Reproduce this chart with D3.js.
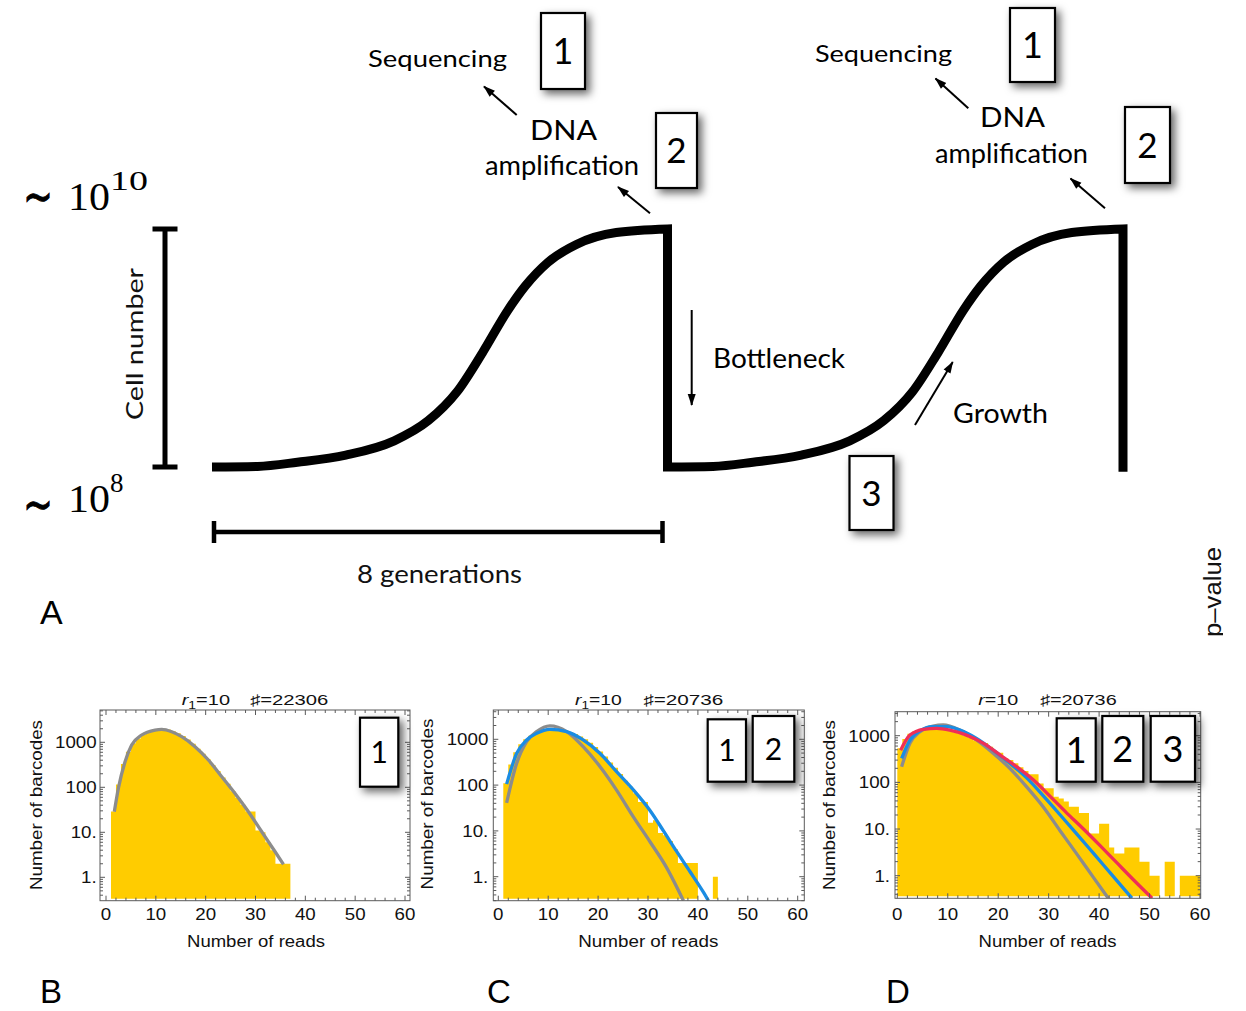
<!DOCTYPE html>
<html>
<head>
<meta charset="utf-8">
<script src="https://cdn.jsdelivr.net/npm/d3@7"></script>
<style>
  html, body { margin: 0; padding: 0; background: #fff; }
  svg { display: block; }
</style>
</head>
<body>
<svg id="fig" width="1246" height="1011"></svg>
<script>
// ---------- Panel A: one growth cycle (generations vs log10 cell number) ----------
const cycleGenerations = [0, 0.8, 1.5, 2.35, 3.2, 3.8, 4.3, 4.75, 5.2, 5.5, 5.9, 6.4, 7.1, 8.0];
const cycleLogCells    = [8.0, 8.005, 8.04, 8.10, 8.22, 8.39, 8.63, 8.96, 9.32, 9.52, 9.72, 9.87, 9.97, 10.0];
const cycleStarts      = [0, 8];

// ---------- Panel B: first sequencing run ----------
const binsB   = d3.range(1, 37);
const countsB = [29, 115, 330, 620, 950, 1220, 1500, 1750, 1870, 1950, 2000, 1920, 1760, 1580, 1380,
                 1150, 930, 720, 560, 420, 310, 230, 165, 120, 82, 58, 41, 29, 29, 11, 10, 6, 4, 2, 2, 2];
const fitB1Reads  = [1.67, 2.48, 3.82, 5.15, 7.16, 9.84, 11.18, 13.19, 15.19, 17.87, 20.55, 23.23, 25.9, 28.58, 31.26, 33.94, 35.61];
const fitB1Counts = [28.7, 94.8, 371, 871, 1452, 1875, 1942, 1722, 1334, 800, 404, 172, 73, 28.7, 10.3, 3.7, 1.94];

// ---------- Panel C: sequencing + amplification ----------
const binsC   = d3.range(1, 44);
const countsC = [110, 280, 520, 780, 1000, 1200, 1380, 1500, 1600, 1650, 1650, 1600, 1520, 1420, 1300,
                 1150, 1000, 840, 680, 540, 420, 310, 240, 175, 125, 92, 66, 43, 43, 15, 17, 9, 8, 6, 4,
                 2, 2, 2, 2, 0, 0, 0, 1];
const fitC1Reads  = [1.67, 3.67, 5.68, 7.68, 10.35, 13.7, 17.0, 20.4, 23.7, 27.1, 30.4, 33.7, 37.1];
const fitC1Counts = [41, 295, 890, 1470, 1960, 1470, 690, 252, 78, 20, 5.8, 1.6, 0.3];
const fitC2Reads  = [1.67, 3.67, 5.68, 7.68, 10.35, 13.7, 17.0, 20.4, 23.7, 27.1, 30.4, 33.1, 35.7, 38.4, 41.1, 42.1];
const fitC2Counts = [105, 490, 967, 1350, 1655, 1470, 967, 490, 196, 78, 28, 10, 3.6, 1.3, 0.46, 0.3];

// ---------- Panel D: sequencing + amplification + growth ----------
const binsD   = d3.range(0, 60);
const countsD = [540, 850, 1100, 1250, 1320, 1360, 1380, 1380, 1360, 1320, 1260, 1180, 1090, 990, 890,
                 800, 720, 700, 580, 440, 430, 330, 300, 256, 210, 175, 150, 150, 95, 75,
                 75, 49, 45, 39, 30, 30, 22, 22, 8, 8, 13, 13, 4, 3, 3,
                 4, 4, 4, 2, 2, 1, 1, 0, 2, 2, 0, 1, 1, 1, 1];
const fitD1Reads  = [0.86, 2.5, 4.5, 7.1, 9.1, 12.4, 15.7, 19.0, 22.3, 25.6, 28.9, 32.3, 35.6, 38.9, 41.8];
const fitD1Counts = [217, 690, 1220, 1610, 1700, 1320, 810, 420, 200, 81, 30, 9.1, 2.9, 0.91, 0.33];
const fitD2Reads  = [0.86, 2.5, 4.5, 7.1, 9.8, 12.4, 15.7, 19.0, 22.3, 25.6, 28.9, 32.3, 35.6, 38.9, 42.2, 46.5];
const fitD2Counts = [326, 807, 1280, 1560, 1560, 1320, 876, 490, 257, 126, 52, 20, 7.8, 3.0, 1.15, 0.33];
const fitD3Reads  = [0.66, 2.5, 5.2, 7.8, 10.4, 13.7, 17.1, 20.4, 23.7, 27.0, 30.3, 33.6, 36.9, 40.2, 43.5, 46.8, 50.5];
const fitD3Counts = [490, 1030, 1370, 1435, 1320, 1030, 685, 385, 215, 112, 50, 22, 10, 4.4, 1.9, 0.82, 0.33];

// axis tick values / labels shared by B-D
const xTickValues = [0, 10, 20, 30, 40, 50, 60];
const yTickValues = [1, 10, 100, 1000];
const yTickLabels = ["1.", "10.", "100", "1000"];

// ---------------------------------------------------------------------------
const svg = d3.select("#fig");
const defs = svg.append("defs");

const shadow = defs.append("filter").attr("id", "shadow")
  .attr("x", "-40%").attr("y", "-40%").attr("width", "200%").attr("height", "200%");
shadow.append("feDropShadow").attr("dx", 4).attr("dy", 4).attr("stdDeviation", 4)
  .attr("flood-color", "#000").attr("flood-opacity", 0.6);

defs.append("marker").attr("id", "arrowhead")
  .attr("viewBox", "0 0 12 10").attr("refX", 11).attr("refY", 5)
  .attr("markerUnits", "userSpaceOnUse").attr("markerWidth", 13).attr("markerHeight", 10)
  .attr("orient", "auto")
  .append("path").attr("d", "M0,1 L12,5 L0,9 Z").attr("fill", "#000");

const SANS = "'Liberation Sans', Arial, Helvetica, sans-serif";
const HUMAN = "Lato, 'Open Sans', sans-serif";

function addText(parent, str, o) {
  let tf = `translate(${o.x},${o.y})`;
  if (o.rot) tf += ` rotate(${o.rot})`;
  if (o.sx) tf += ` scale(${o.sx},1)`;
  const t = parent.append("text")
    .attr("transform", tf)
    .attr("text-anchor", o.anchor || "start")
    .attr("font-family", o.family || SANS)
    .attr("font-size", o.size || 16)
    .attr("fill", o.fill || "#111");
  if (o.style) t.attr("font-style", o.style);
  if (o.len) t.attr("textLength", o.len).attr("lengthAdjust", "spacingAndGlyphs");
  if (o.stroke) t.attr("stroke", o.fill || "#111").attr("stroke-width", o.stroke);
  if (str !== null) t.text(str);
  return t;
}

function shadowBox(parent, label, x, y, w, h, size) {
  parent.append("rect").attr("x", x).attr("y", y).attr("width", w).attr("height", h)
    .attr("fill", "#fff").attr("stroke", "#000").attr("stroke-width", 2.2)
    .attr("filter", "url(#shadow)");
  addText(parent, label, { x: x + w / 2, y: y + h / 2 + size * 0.36, size, family: HUMAN, anchor: "middle", fill: "#000" });
}

function arrow(parent, x1, y1, x2, y2) {
  parent.append("line").attr("x1", x1).attr("y1", y1).attr("x2", x2).attr("y2", y2)
    .attr("stroke", "#000").attr("stroke-width", 2).attr("marker-end", "url(#arrowhead)");
}

// =================== Panel A ===================
const gA = svg.append("g");
const genX  = d3.scaleLinear().domain([0, 16]).range([212, 1123]);
const cellY = d3.scaleLinear().domain([8, 10]).range([467, 229]);

const cycleLine = d3.line().x(d => genX(d[0])).y(d => cellY(d[1])).curve(d3.curveMonotoneX);
let cyclePath = "";
cycleStarts.forEach((g0, i) => {
  const pts = cycleGenerations.map((g, j) => [g0 + g, cycleLogCells[j]]);
  let seg = cycleLine(pts);
  if (i > 0) seg = "L" + seg.slice(1);
  const last = i === cycleStarts.length - 1;
  cyclePath += seg + `L${genX(g0 + 8)},${cellY(last ? 7.96 : 8.0)}`;
});
gA.append("path").attr("d", cyclePath).attr("fill", "none")
  .attr("stroke", "#000").attr("stroke-width", 9).attr("stroke-linejoin", "miter");

// cell-number range bar
const barX = 165;
gA.append("path")
  .attr("d", `M${barX},${cellY(10)}V${cellY(8)}M${barX - 12.5},${cellY(10)}H${barX + 12.5}M${barX - 12.5},${cellY(8)}H${barX + 12.5}`)
  .attr("stroke", "#000").attr("stroke-width", 5).attr("fill", "none");
addText(gA, "Cell number", { x: 143, y: 344, rot: -90, anchor: "middle", size: 24, family: HUMAN, len: 152 });

// generation bar
const genBarY = 532;
const gx0 = genX(0) + 2, gx1 = genX(8) - 5;
gA.append("path")
  .attr("d", `M${gx0},${genBarY}H${gx1}M${gx0},${genBarY - 11}V${genBarY + 11}M${gx1},${genBarY - 11}V${genBarY + 11}`)
  .attr("stroke", "#000").attr("stroke-width", 4.5).attr("fill", "none");
addText(gA, "8 generations", { x: 357, y: 583, size: 25, family: HUMAN, len: 165 });

// order-of-magnitude labels
const SERIF = "'Liberation Serif', 'DejaVu Serif', serif";
const MATH = "'DejaVu Sans', sans-serif";
addText(gA, "\u223C", { x: 23, y: 214, size: 52, family: MATH, fill: "#000", len: 30, stroke: 0.9 });
addText(gA, "10", { x: 68, y: 210, size: 41, family: SERIF, fill: "#000", len: 42 });
addText(gA, "10", { x: 110, y: 190, size: 27, family: SERIF, fill: "#000", len: 38 });
addText(gA, "\u223C", { x: 23, y: 522, size: 52, family: MATH, fill: "#000", len: 30, stroke: 0.9 });
addText(gA, "10", { x: 68, y: 512, size: 41, family: SERIF, fill: "#000", len: 42 });
addText(gA, "8", { x: 110, y: 492, size: 27, family: SERIF, fill: "#000" });

// step annotations
[
  { s: "Sequencing",    x: 368, y: 67,  w: 139, size: 24 },
  { s: "DNA",           x: 530, y: 140, w: 67,  size: 26 },
  { s: "amplification", x: 485, y: 175, w: 154, size: 26 },
  { s: "Sequencing",    x: 815, y: 62,  w: 137, size: 24 },
  { s: "DNA",           x: 980, y: 127, w: 65,  size: 26 },
  { s: "amplification", x: 935, y: 163, w: 153, size: 26 },
  { s: "Bottleneck",    x: 713, y: 368, w: 132, size: 27 },
  { s: "Growth",        x: 953, y: 423, w: 95,  size: 27 }
].forEach(t => addText(gA, t.s, { x: t.x, y: t.y, size: t.size, family: HUMAN, len: t.w, fill: "#000" }));

arrow(gA, 516.7, 115, 484, 86.5);
arrow(gA, 650, 213.3, 618, 187);
arrow(gA, 968.3, 108.3, 935.5, 78.5);
arrow(gA, 1105, 208.3, 1070.5, 178.5);
arrow(gA, 691.7, 310, 691.7, 405);
arrow(gA, 915, 425, 952.7, 362);

shadowBox(gA, "1", 541, 13, 44, 76, 36);
shadowBox(gA, "2", 656, 113, 41, 75, 35);
shadowBox(gA, "1", 1010, 8, 45, 74, 36);
shadowBox(gA, "2", 1125, 107, 45, 76, 35);
shadowBox(gA, "3", 849.5, 456, 44, 74, 35);

addText(gA, "A", { x: 40, y: 624, size: 34, fill: "#000" });

// clipped axis label at the right edge
defs.append("clipPath").attr("id", "edgeClip").append("rect")
  .attr("x", 1150).attr("y", 500).attr("width", 73).attr("height", 200);
const gEdge = svg.append("g").attr("clip-path", "url(#edgeClip)");
addText(gEdge, "p\u2013value", { x: 1221, y: 592, rot: -90, anchor: "middle", size: 23, len: 90 });

// =================== Panels B-D ===================
const COLORS = { gray: "#8c8c8c", blue: "#1a8ce3", red: "#ef2f57", bar: "#ffcc00", frame: "#5a5a5a" };

const panels = [
  {
    letter: "B", letterX: 40,
    frame: [100, 410, 710, 900.7], xpx: [106, 405], ypx: [877.3, 742.3], yLabelX: 96.7,
    bins: binsB, counts: countsB,
    fits: [{ r: fitB1Reads, c: fitB1Counts, color: COLORS.gray }],
    title: { sub: "1", n: "22306", lx: 181.7, lw: 48.3, rx: 250, rw: 78.3 },
    xTitle: { cx: 256, w: 138 }, yTitle: { x: 41.5, cy: 805, w: 170 },
    boxes: [{ s: "1", x: 360, y: 717.7, w: 38.3, h: 69, size: 30 }]
  },
  {
    letter: "C", letterX: 487,
    frame: [493.3, 804.3, 710, 900.7], xpx: [498.3, 797.7], ypx: [876.7, 739.3], yLabelX: 488.3,
    bins: binsC, counts: countsC,
    fits: [{ r: fitC1Reads, c: fitC1Counts, color: COLORS.gray },
           { r: fitC2Reads, c: fitC2Counts, color: COLORS.blue }],
    title: { sub: "1", n: "20736", lx: 575, lw: 46.7, rx: 643.3, rw: 80 },
    xTitle: { cx: 648.3, w: 140 }, yTitle: { x: 433, cy: 804, w: 171 },
    boxes: [{ s: "1", x: 707.7, y: 719.3, w: 38.3, h: 62.4, size: 30 },
            { s: "2", x: 752.7, y: 716, w: 41.6, h: 65.7, size: 30 }]
  },
  {
    letter: "D", letterX: 886,
    frame: [895, 1200.7, 711.7, 898.3], xpx: [897.3, 1200], ypx: [875.7, 735.7], yLabelX: 890,
    bins: binsD, counts: countsD,
    fits: [{ r: fitD1Reads, c: fitD1Counts, color: COLORS.gray },
           { r: fitD2Reads, c: fitD2Counts, color: COLORS.blue },
           { r: fitD3Reads, c: fitD3Counts, color: COLORS.red }],
    title: { sub: null, n: "20736", lx: 978.3, lw: 40, rx: 1040, rw: 76.7 },
    xTitle: { cx: 1047.5, w: 138 }, yTitle: { x: 835, cy: 805, w: 170 },
    boxes: [{ s: "1", x: 1056.7, y: 718.3, w: 39, h: 63.4, size: 36 },
            { s: "2", x: 1102.3, y: 716, w: 41, h: 65.7, size: 36 },
            { s: "3", x: 1150.7, y: 716, w: 44.3, h: 65.7, size: 36 }]
  }
];

panels.forEach(p => {
  const [fx0, fx1, fy0, fy1] = p.frame;
  const x = d3.scaleLinear().domain([0, 60]).range(p.xpx);
  const y = d3.scaleLog().domain([1, 1000]).range(p.ypx);
  const g = svg.append("g");
  const clipId = "clip" + p.letter;
  defs.append("clipPath").attr("id", clipId).append("rect")
    .attr("x", fx0).attr("y", fy0).attr("width", fx1 - fx0).attr("height", fy1 - fy0);
  const plot = g.append("g").attr("clip-path", `url(#${clipId})`);

  // histogram bars, filled as one shape so neighbouring bins join without seams
  const barBase = fy1 - 2;
  const barPath = d3.path();
  p.bins.forEach((b, i) => {
    const c = p.counts[i];
    if (c <= 0) return;
    const x0 = x(b), x1 = x(b + 1), yt = y(c);
    barPath.rect(x0, yt, x1 - x0, barBase - yt);
  });
  plot.append("path").attr("d", barPath.toString()).attr("fill", COLORS.bar);

  // fitted distributions
  const fitLine = d3.line().x(d => x(d[0])).y(d => y(d[1])).curve(d3.curveMonotoneX);
  p.fits.forEach(f => {
    plot.append("path")
      .attr("d", fitLine(f.r.map((r, i) => [r, f.c[i]])))
      .attr("fill", "none").attr("stroke", f.color).attr("stroke-width", 3.3)
      .attr("stroke-linecap", "butt");
  });

  // frame
  g.append("rect").attr("x", fx0).attr("y", fy0).attr("width", fx1 - fx0).attr("height", fy1 - fy0)
    .attr("fill", "none").attr("stroke", COLORS.frame).attr("stroke-width", 1);

  // x ticks (major every 10, minor every 2), on bottom and top, pointing inward
  const tickPath = [];
  d3.range(0, 61, 2).forEach(v => {
    const len = v % 10 === 0 ? 5 : 3;
    const px = x(v);
    tickPath.push(`M${px},${fy1}v${-len}`, `M${px},${fy0}v${len}`);
  });
  // y ticks (log decades + minor), on left and right, pointing inward
  const yLo = y.invert(fy1), yHi = y.invert(fy0);
  for (let e = -1; e <= 4; e++) {
    for (let m = 1; m <= 9; m++) {
      const v = m * Math.pow(10, e);
      if (v < yLo || v > yHi) continue;
      const len = m === 1 ? 5 : 3;
      const py = y(v);
      tickPath.push(`M${fx0},${py}h${len}`, `M${fx1},${py}h${-len}`);
    }
  }
  g.append("path").attr("d", tickPath.join("")).attr("stroke", COLORS.frame)
    .attr("stroke-width", 1).attr("fill", "none");

  // tick labels
  xTickValues.forEach(v => addText(g, String(v), { x: x(v), y: 920, anchor: "middle", size: 16, sx: 1.17 }));
  yTickValues.forEach((v, i) => addText(g, yTickLabels[i], { x: p.yLabelX, y: y(v) + 5.8, anchor: "end", size: 16, sx: 1.17 }));

  // axis titles
  addText(g, "Number of reads", { x: p.xTitle.cx, y: 947, anchor: "middle", size: 16, len: p.xTitle.w });
  addText(g, "Number of barcodes", { x: p.yTitle.x, y: p.yTitle.cy, rot: -90, anchor: "middle", size: 16, len: p.yTitle.w });

  // plot title
  const tl = addText(g, null, { x: p.title.lx, y: 705, size: 15, len: p.title.lw });
  tl.append("tspan").attr("font-style", "italic").text("r");
  if (p.title.sub) {
    tl.append("tspan").attr("font-size", 10.5).attr("dy", 3.5).text(p.title.sub);
    tl.append("tspan").attr("dy", -3.5).text("=10");
  } else {
    tl.append("tspan").text("=10");
  }
  addText(g, "\u266F=" + p.title.n, { x: p.title.rx, y: 705, size: 15, len: p.title.rw });

  // boxed step labels
  p.boxes.forEach(b => shadowBox(g, b.s, b.x, b.y, b.w, b.h, b.size));

  // panel letter
  addText(g, p.letter, { x: p.letterX, y: 1003, size: 33, fill: "#000" });
});
</script>
</body>
</html>
